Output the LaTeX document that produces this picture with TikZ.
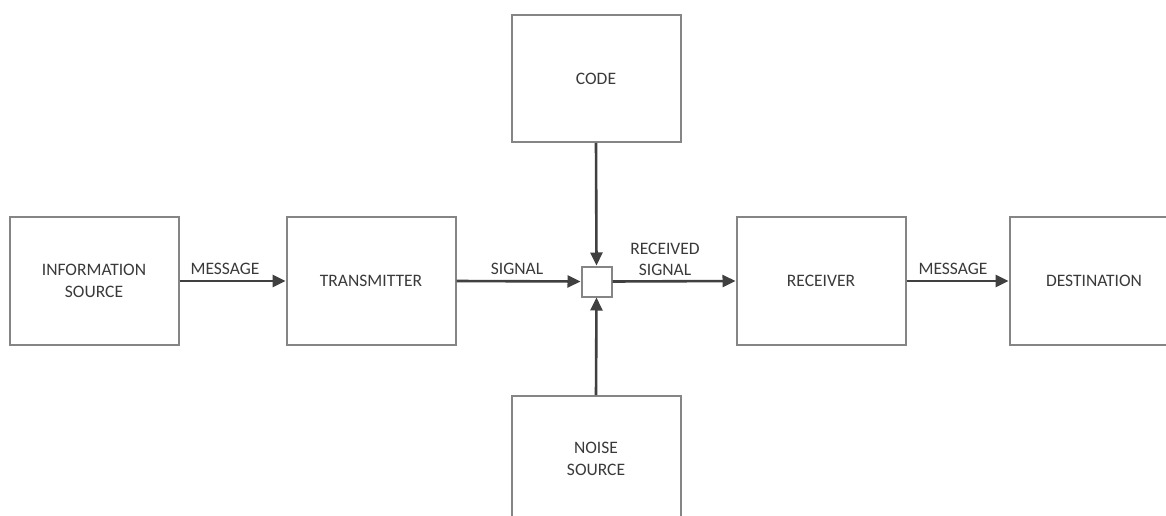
\documentclass[tikz,border=0pt]{standalone}
\usepackage{fontspec}
\setmainfont{Carlito}
\usetikzlibrary{arrows.meta}
\definecolor{boxline}{HTML}{858585}
\definecolor{arrowcol}{HTML}{404040}
\definecolor{textcol}{HTML}{3A3A3A}
\tikzset{
  blockbox/.style={draw=boxline, line width=2pt, fill=white, minimum width=169pt,
    minimum height=128pt, inner sep=0pt, align=center, text=textcol,
    font=\fontsize{17.5}{22}\selectfont},
  junction/.style={draw=boxline, line width=2pt, fill=white, minimum size=30pt, inner sep=0pt},
  flow/.style={draw=arrowcol, line width=2.6pt, -{Triangle[length=13pt,width=12pt]}},
  flowlabel/.style={text=textcol, align=center, inner sep=0pt,
    font=\fontsize{17.5}{21}\selectfont}
}
\begin{document}
\begin{tikzpicture}[x=1pt,y=-1pt]
  \useasboundingbox (0,0) rectangle (1166,516);
  \clip (0,0) rectangle (1166,516);
  \fill[white] (0,0) rectangle (1166,516);

  % blocks of the channel
  \node[blockbox] (src)  at (94,281)    {INFORMATION\\SOURCE};
  \node[blockbox] (tx)   at (371,281)   {TRANSMITTER};
  \node[junction] (mix)  at (596.5,281.5) {};
  \node[blockbox] (rx)   at (821,281)   {RECEIVER};
  \node[blockbox] (dst)  at (1094,281)  {DESTINATION};
  \node[blockbox, minimum height=127pt] (code)  at (596,78.5) {CODE};
  \node[blockbox, minimum height=126pt] (noise) at (596,459)  {NOISE\\SOURCE};

  % connectors
  \draw[flow] (src.east) -- (tx.west);
  \draw[flow] (tx.east) -- (mix.west);
  \draw[flow] (mix.east) -- (rx.west);
  \draw[flow] (rx.east) -- (dst.west);
  \draw[flow] (code.south) -- (mix.north);
  \draw[flow] (noise.north) -- (mix.south);

  % connector labels
  \node[flowlabel] (lmsg1) at (225,269) {MESSAGE};
  \node[flowlabel] (lsig)  at (517,269) {SIGNAL};
  \node[flowlabel] (lrec)  at (665,259.5) {RECEIVED\\SIGNAL};
  \node[flowlabel] (lmsg2) at (953,269) {MESSAGE};
\end{tikzpicture}
\end{document}
